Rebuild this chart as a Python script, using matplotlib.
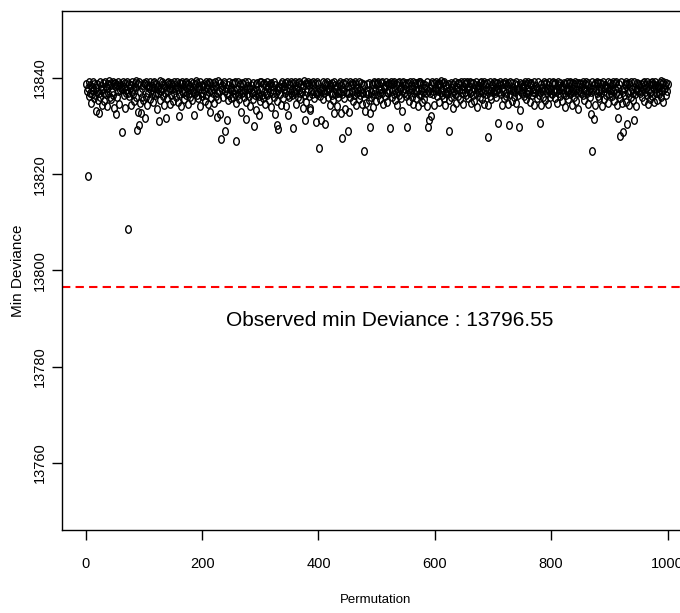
import numpy as np
import matplotlib
matplotlib.use('Agg')
import matplotlib.pyplot as plt
from matplotlib.path import Path

# minimum deviance per permutation, stored as tenths above 13830 (20 rows x 50 permutations)
band_rows = [
    "88 74 56 79 91 63 86 70 48 82 67 92 75 59 88 64 80 33 71 87 54 89 69 92 61 76 83 45 90 78 68 52 91 84 66 79 42 87 70 93 60 85 89 57 72 91 65 88 38 84",
    "90 69 86 61 92 73 47 88 76 80 84 58 77 91 64 82 89 38 75 68 92 70 56 88 63 80 86 45 73 91 77 67 52 89 81 93 60 74 30 88 66 91 72 49 87 79 60 55 85 89",
    "72 88 91 60 44 86 68 80 83 57 92 75 67 84 51 89 79 91 65 70 88 36 82 70 77 86 93 54 74 79 91 63 88 43 85 70 81 66 89 58 92 73 87 47 80 90 64 78 86 53",
    "91 68 85 79 60 84 92 50 77 81 66 90 88 42 73 91 69 86 57 89 74 92 65 80 46 88 70 77 84 61 91 76 55 89 72 27 87 69 93 75 65 90 59 83 78 41 91 70 86 63",
    "84 70 76 88 52 91 65 79 87 46 92 71 64 89 76 58 83 90 68 78 49 85 91 62 87 70 93 56 74 89 39 82 60 77 86 61 88 91 73 44 79 67 90 54 85 92 65 78 81 59",
    "89 73 61 90 76 67 92 48 84 78 64 91 70 56 87 75 43 90 69 88 72 60 91 76 51 89 66 84 92 63 77 80 42 85 71 68 89 57 91 74 65 88 34 76 90 70 62 87 53 92",
    "78 91 65 59 88 72 90 47 86 69 92 64 84 79 55 87 71 90 39 83 68 76 91 60 85 79 70 52 92 76 63 84 80 67 88 45 81 91 58 77 83 69 90 41 76 92 65 74 88 61",
    "86 70 91 64 78 53 90 74 68 92 77 46 83 89 61 75 91 69 57 88 72 80 38 86 93 65 74 89 50 87 71 91 62 85 78 37 90 73 67 86 92 59 74 89 70 43 91 66 87 72",
    "91 77 63 89 74 80 56 92 75 68 90 48 86 73 92 61 78 79 44 87 70 82 65 89 54 74 91 67 86 78 42 83 70 60 87 71 92 51 85 79 66 74 90 58 88 35 72 91 69 86",
    "83 79 68 92 60 86 71 90 52 88 65 91 74 45 87 80 69 73 57 92 76 64 89 71 46 88 70 62 85 91 70 49 87 74 67 90 55 86 92 72 61 88 39 75 91 66 89 73 53 90",
    "88 64 91 75 70 57 90 77 69 92 46 84 79 63 86 91 72 51 88 68 90 75 48 87 92 60 73 89 67 91 54 76 70 88 43 90 74 65 92 77 59 82 89 31 76 91 69 85 78 62",
    "90 72 66 89 77 53 92 70 85 61 78 91 47 84 69 90 76 58 89 73 42 91 67 87 92 64 75 50 88 71 80 56 86 79 68 42 91 74 63 88 80 70 55 87 92 66 73 89 45 75",
    "79 91 76 62 88 74 90 51 87 72 93 65 75 89 58 91 70 44 86 80 67 73 88 54 92 75 61 89 71 80 38 87 74 66 91 78 49 82 90 63 76 89 56 85 92 69 78 47 83 91",
    "87 71 90 65 78 92 59 84 76 69 91 48 89 73 64 90 77 52 85 91 68 78 40 86 80 72 60 89 74 92 56 87 70 91 46 88 75 67 90 73 43 89 76 62 91 74 57 88 80 71",
    "92 75 68 89 73 61 90 77 54 88 71 91 66 86 45 80 74 89 59 87 92 70 63 85 90 47 78 83 91 67 76 52 89 74 80 60 87 72 91 49 85 78 65 92 76 33 90 71 87 69",
    "84 80 62 87 91 70 56 88 75 92 67 73 89 50 86 90 64 78 72 43 91 77 69 84 80 58 76 92 65 89 71 45 87 80 73 61 88 91 54 75 89 68 80 47 86 73 92 60 78 70",
    "89 66 91 74 87 59 90 72 78 48 85 92 69 76 63 89 81 53 84 77 70 90 39 88 75 64 91 73 57 89 76 92 67 74 44 90 78 71 60 87 91 52 75 89 68 36 90 76 72 88",
    "81 70 87 64 91 75 55 88 73 92 68 86 46 89 74 80 61 87 72 51 91 78 66 85 90 44 76 92 70 63 89 74 58 90 77 69 42 88 91 73 56 86 80 65 84 79 49 92 77 67",
    "90 76 69 88 62 91 74 53 89 77 70 92 45 85 80 66 88 73 59 91 76 48 89 72 80 64 87 92 51 75 88 68 90 43 86 74 91 61 78 70 55 89 92 67 75 41 90 77 73 88",
    "86 81 68 88 74 60 90 77 52 92 71 85 79 65 91 47 76 88 70 57 90 74 92 63 87 79 51 85 91 69 78 54 86 80 72 66 89 93 60 87 74 91 50 78 85 80 64 89 73 87",
]

# permutations that dropped clearly below the band
low_perm = [3, 18, 22, 52, 62, 73, 88, 91, 95, 101, 126, 138, 160, 186,
            213, 225, 231, 233, 240, 243, 259, 267, 276, 289, 298,
            326, 329, 331, 348, 356, 377, 385, 396, 401, 404, 412,
            426, 438, 440, 450, 452, 478, 480, 488, 489,
            523, 552, 589, 590, 593, 625, 692, 709, 728, 744, 780,
            868, 870, 873, 914, 918, 923, 930, 942]
low_dev = [13819.6, 13833.1, 13832.8, 13832.6, 13828.8, 13808.6, 13829.2, 13830.3, 13832.8, 13831.7, 13831.0, 13831.7, 13832.2, 13832.4,
           13832.9, 13832.0, 13832.6, 13827.4, 13828.9, 13831.3, 13827.0, 13832.9, 13831.5, 13830.1, 13832.4,
           13832.6, 13830.3, 13829.4, 13832.4, 13829.7, 13831.3, 13833.4, 13830.8, 13825.5, 13831.3, 13830.5,
           13832.7, 13832.7, 13827.6, 13828.9, 13833.0, 13824.9, 13833.2, 13832.7, 13829.9,
           13829.7, 13829.9, 13829.9, 13831.2, 13832.2, 13829.0, 13827.8, 13830.6, 13830.2, 13829.9, 13830.6,
           13832.5, 13824.9, 13831.5, 13831.8, 13828.0, 13828.7, 13830.4, 13831.2]

observed = 13796.55

dev = np.array([13830 + int(v) / 10 for row in band_rows for v in row.split()])
for p, d in zip(low_perm, low_dev):
    dev[p - 1] = d
perm = np.arange(1, len(dev) + 1)

# R-style open circle, a bit taller than wide
t = np.linspace(0, 2 * np.pi, 40)
ring = Path(np.column_stack([0.75 * np.cos(t), np.sin(t)]), closed=True)

fig = plt.figure(figsize=(6.8, 6.13), dpi=100)
ax = fig.add_axes([0.0919, 0.1354, 0.924, 0.847])

ax.plot(perm, dev, linestyle='none', marker=ring, markersize=5.4,
        markerfacecolor='none', markeredgecolor='black', markeredgewidth=1.0)
ax.axhline(observed, color='red', linewidth=1.5, dashes=(4, 2.5))
ax.text(522, 13789.5, 'Observed min Deviance : %.2f' % observed,
        ha='center', va='center', fontsize=15, family='Liberation Sans')

ax.set_xlim(-40, 1040)
ax.set_ylim(13746, 13854)
ax.set_xticks(range(0, 1001, 200))
ax.set_yticks(range(13760, 13841, 20))
ax.spines['right'].set_visible(False)
for s in ['left', 'top', 'bottom']:
    ax.spines[s].set_linewidth(1.0)

ax.tick_params(direction='out', length=7.5, width=1.0)
ax.tick_params(axis='x', pad=12)
ax.tick_params(axis='y', pad=4)
for lab in ax.get_xticklabels():
    lab.set_family('Liberation Sans')
    lab.set_fontsize(10.5)
for lab in ax.get_yticklabels():
    lab.set_family('Liberation Sans')
    lab.set_fontsize(10.5)
    lab.set_rotation(90)
    lab.set_va('center')

ax.set_xlabel('Permutation', family='Liberation Sans', fontsize=9.5)
ax.set_ylabel('Min Deviance', family='Liberation Sans', fontsize=11)
ax.xaxis.set_label_coords(0.499, -0.124)
ax.yaxis.set_label_coords(-0.060, 0.5)

fig.savefig('out.png', dpi=100)
